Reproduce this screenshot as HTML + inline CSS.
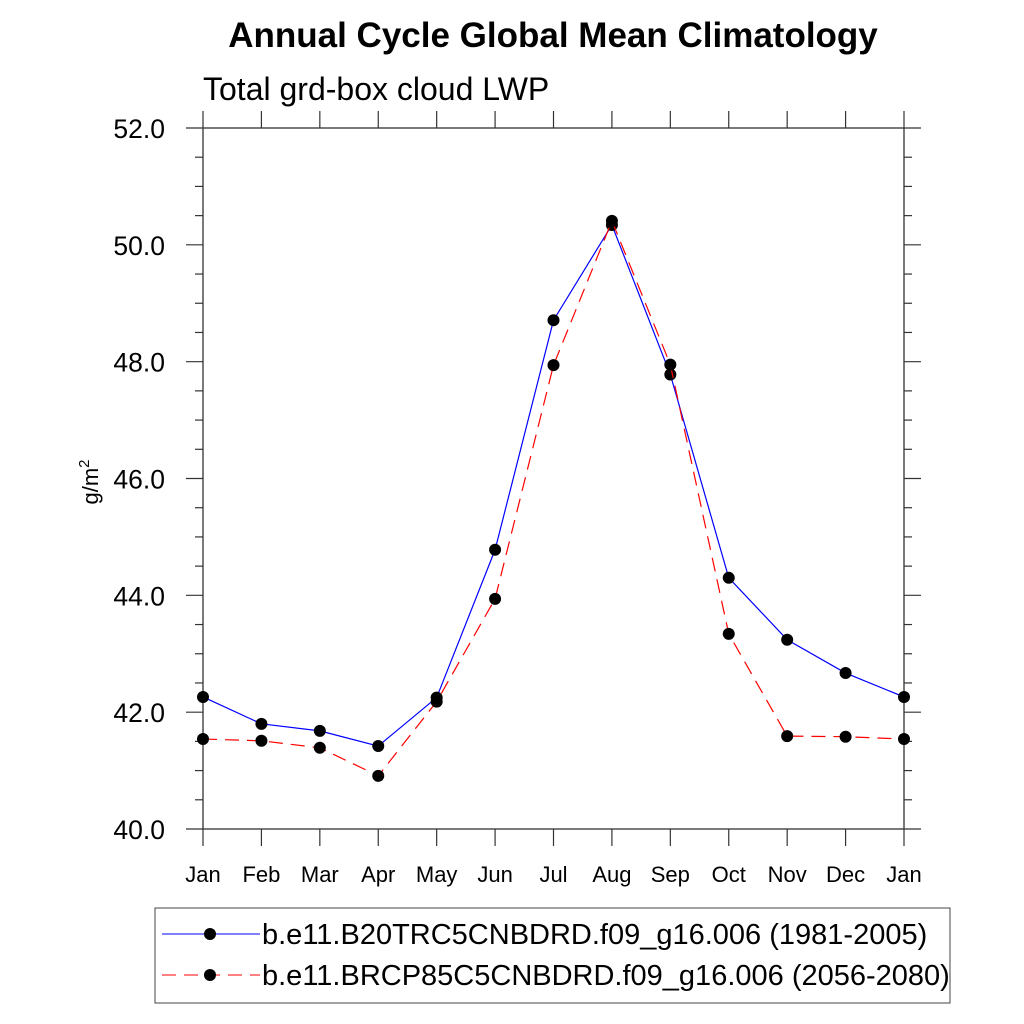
<!DOCTYPE html>
<html><head><meta charset="utf-8"><style>
body{margin:0;background:#fff;}
svg{display:block;font-family:"Liberation Sans",Arial,sans-serif;}
</style></head><body>
<svg id="chart" width="1024" height="1024" viewBox="0 0 1024 1024">
<text x="553" y="47" text-anchor="middle" font-size="35" font-weight="bold">Annual Cycle Global Mean Climatology</text>
<text x="203" y="100" font-size="32">Total grd-box cloud LWP</text>
<text transform="translate(98,482) rotate(-90)" text-anchor="middle" font-size="22">g/m<tspan dy="-9" font-size="15">2</tspan></text>
<g id="axes"></g>
<g id="series"></g>
<g>
<rect x="155" y="908" width="795" height="95" fill="none" stroke="#444" stroke-width="1"/>
<g>
<line x1="162" y1="934" x2="260" y2="934" stroke="#00f" stroke-width="1"/>
<circle cx="210" cy="934" r="6" fill="#000"/>
<text x="262" y="944" font-size="29">b.e11.B20TRC5CNBDRD.f09_g16.006 (1981-2005)</text>
</g>
<g>
<line x1="162" y1="975" x2="260" y2="975" stroke="#f00" stroke-width="1" stroke-dasharray="14,8"/>
<circle cx="210" cy="975" r="6" fill="#000"/>
<text x="262" y="985" font-size="29">b.e11.BRCP85C5CNBDRD.f09_g16.006 (2056-2080)</text>
</g>
</g>
</svg>
<script>
const months = ["Jan","Feb","Mar","Apr","May","Jun","Jul","Aug","Sep","Oct","Nov","Dec","Jan"];
const histValues = [42.26,41.80,41.68,41.42,42.25,44.78,48.71,50.34,47.78,44.30,43.24,42.67,42.26];
const rcpValues = [41.54,41.51,41.39,40.91,42.18,43.94,47.94,50.41,47.95,43.34,41.59,41.58,41.54];
const yTicks = [40,42,44,46,48,50,52];
const yTickLabels = ["40.0","42.0","44.0","46.0","48.0","50.0","52.0"];

const L=203,R=904,T=128,B=829,ymin=40,ymax=52;
const xs=i=>L+(R-L)*i/(months.length-1);
const ys=v=>B-(B-T)*(v-ymin)/(ymax-ymin);
const NS="http://www.w3.org/2000/svg";
function mk(tag,attrs,parent){const e=document.createElementNS(NS,tag);for(const k in attrs)e.setAttribute(k,attrs[k]);parent.appendChild(e);return e;}
const ax=document.getElementById('axes');
const frame=mk('rect',{x:L,y:T,width:R-L,height:B-T,fill:'none',stroke:'#333','stroke-width':1.3},ax);


for(let v=ymin;v<=ymax+1e-9;v+=0.5){
  const major=Math.abs(v/2-Math.round(v/2))<1e-6;
  const len=major?17:8;const y=ys(v);
  const t1=mk('line',{x1:L-len,y1:y,x2:L,y2:y,stroke:'#333','stroke-width':1.2},ax);
  
  
  const t2=mk('line',{x1:R,y1:y,x2:R+len,y2:y,stroke:'#333','stroke-width':1.2},ax);
  
  
}
yTicks.forEach((v,i)=>{
  const t=mk('text',{x:165,y:ys(v)+10,'text-anchor':'end','font-size':26.5},ax);
  t.textContent=yTickLabels[i];
  
  
});
months.forEach((m,i)=>{
  const x=xs(i);
  const a=mk('line',{x1:x,y1:T-17,x2:x,y2:T,stroke:'#333','stroke-width':1.2},ax);
  
  
  const b=mk('line',{x1:x,y1:B,x2:x,y2:B+17,stroke:'#333','stroke-width':1.2},ax);
  
  
  const t=mk('text',{x:x,y:882,'text-anchor':'middle','font-size':22},ax);
  t.textContent=m;
  
  
});
const sg=document.getElementById('series');
function series(vals,color,dash,name){
  const pts=vals.map((v,i)=>xs(i)+','+ys(v)).join(' ');
  const pl=mk('polyline',{points:pts,fill:'none',stroke:color,'stroke-width':1.2,'stroke-dasharray':dash},sg);
  
  
  vals.forEach((v,i)=>{
    const c=mk('circle',{cx:xs(i),cy:ys(v),r:6,fill:'#000'},sg);
    
    
  });
}
series(histValues,'#00f','none','historical');
series(rcpValues,'#f00','14,8','rcp85');
</script>
</body></html>
